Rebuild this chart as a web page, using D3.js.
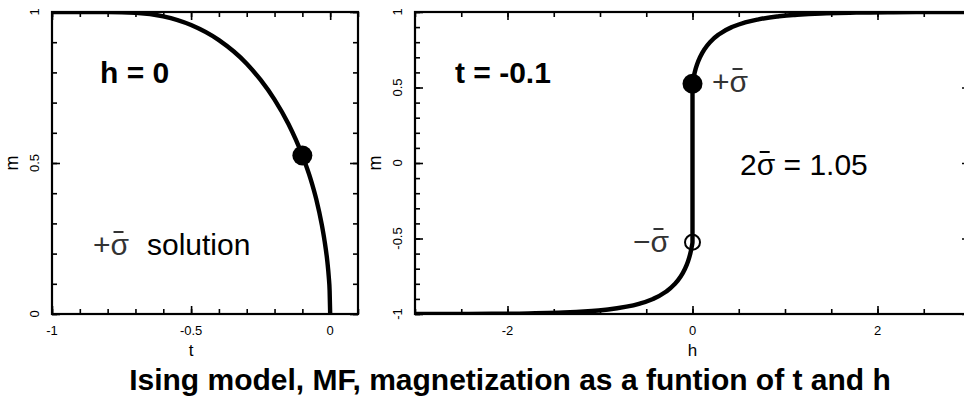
<!DOCTYPE html>
<html><head><meta charset="utf-8">
<script src="https://cdn.jsdelivr.net/npm/d3@7"></script>
<style>
body{margin:0;background:#fff}
svg{display:block}
text{font-family:"Liberation Sans",Arial,Helvetica,sans-serif;fill:#000}
</style>
</head><body>
<svg id="c" width="964" height="400"></svg>
<script>
// ---- data ----
// left panel: h = 0, m vs t
const leftT = [-1, -0.9, -0.8, -0.7, -0.6, -0.5, -0.4, -0.3, -0.25, -0.2, -0.15, -0.1, -0.07, -0.05, -0.03, -0.02, -0.01, -0.005, -0.002, 0];
const leftM = [1, 1, 0.9999, 0.9975, 0.9857, 0.957, 0.907, 0.829, 0.775, 0.710, 0.629, 0.525, 0.446, 0.38, 0.295, 0.241, 0.172, 0.122, 0.077, 0];
// right panel: t = -0.1, m vs h
const rightH = [-3.0, -2.733, -2.421, -2.110, -1.700, -1.392, -1.088, -0.913, -0.699, -0.563, -0.425, -0.281, -0.189, -0.126, -0.081, -0.048, -0.024, -0.007, 0,
                0, 0.007, 0.024, 0.048, 0.081, 0.126, 0.189, 0.281, 0.425, 0.563, 0.699, 0.913, 1.088, 1.392, 1.700, 2.110, 2.421, 2.733, 3.0];
const rightM = [-0.9997, -0.9995, -0.999, -0.998, -0.995, -0.99, -0.98, -0.97, -0.95, -0.93, -0.9, -0.85, -0.8, -0.75, -0.7, -0.65, -0.6, -0.55, -0.525,
                0.525, 0.55, 0.6, 0.65, 0.7, 0.75, 0.8, 0.85, 0.9, 0.93, 0.95, 0.97, 0.98, 0.99, 0.995, 0.998, 0.999, 0.9995, 0.9997];
// marked solutions
const leftPoint = {t: -0.1, m: 0.525};
const sigmaBar = 0.525;
// tick labels
const leftXTicks = [-1, -0.5, 0];
const leftXLabels = ["-1", "-0.5", "0"];
const leftYTicks = [0, 0.5, 1];
const leftYLabels = ["0", "0.5", "1"];
const rightXTicks = [-2, 0, 2];
const rightXLabels = ["-2", "0", "2"];
const rightYTicks = [-1, -0.5, 0, 0.5, 1];
const rightYLabels = ["-1", "-0.5", "0", "0.5", "1"];

const svg = d3.select("#c");
const defs = svg.append("defs");

function panel(p) {
  const g = svg.append("g");
  const x = d3.scaleLinear().domain(p.xd).range([p.x0, p.x1]);
  const y = d3.scaleLinear().domain(p.yd).range([p.yb, p.yt]);
  const ax = (gen, vals, size, tx, ty) => {
    const a = g.append("g").attr("transform", `translate(${tx},${ty})`)
      .call(gen.tickValues(vals).tickSize(size).tickSizeOuter(0).tickFormat(""));
    a.select(".domain").remove();
    a.selectAll("line").attr("stroke", "#000").attr("stroke-width", 1.6);
  };
  ax(d3.axisBottom(x), p.xMinor, -5, 0, p.yb);
  ax(d3.axisBottom(x), p.xMajor, -8, 0, p.yb);
  ax(d3.axisTop(x), p.xMinor, -5, 0, p.yt);
  ax(d3.axisTop(x), p.xMajor, -8, 0, p.yt);
  ax(d3.axisLeft(y), p.yMinor, -5, p.x0, 0);
  ax(d3.axisLeft(y), p.yMajor, -8, p.x0, 0);
  ax(d3.axisRight(y), p.yMinor, -5, p.x1, 0);
  ax(d3.axisRight(y), p.yMajor, -8, p.x1, 0);
  g.append("rect").attr("x", p.x0).attr("y", p.yt).attr("width", p.x1 - p.x0).attr("height", p.yb - p.yt)
    .attr("fill", "none").attr("stroke", "#000").attr("stroke-width", 2.2);
  // x tick labels
  g.selectAll(".xl").data(p.xMajor).enter().append("text")
    .attr("x", d => x(d)).attr("y", p.yb + 21).attr("text-anchor", "middle")
    .attr("font-size", 13).text((d, i) => p.xLabels[i]);
  // y tick labels (rotated)
  g.selectAll(".yl").data(p.yMajor).enter().append("text")
    .attr("transform", d => `translate(${p.x0 - 13},${y(d)}) rotate(-90)`)
    .attr("text-anchor", "middle").attr("font-size", 13).text((d, i) => p.yLabels[i]);
  // axis titles
  g.append("text").attr("x", x(p.xTitleAt)).attr("y", p.yb + 42).attr("text-anchor", "middle")
    .attr("font-size", 17).text(p.xTitle);
  g.append("text").attr("transform", `translate(${p.x0 - 34},${(p.yt + p.yb) / 2}) rotate(-90)`)
    .attr("text-anchor", "middle").attr("font-size", 18).text("m");
  defs.append("clipPath").attr("id", p.id).append("rect")
    .attr("x", p.x0).attr("y", p.yt).attr("width", p.x1 - p.x0).attr("height", p.yb - p.yt);
  return {g, x, y};
}

// text containing a sigma with an overbar drawn above it
function sigmaText(g, x, y, str, anchor, fill) {
  const t = g.append("text").attr("x", x).attr("y", y).attr("font-size", 30)
    .attr("text-anchor", anchor).style("fill", fill).style("white-space", "pre").text(str);
  const idx = str.indexOf("σ");
  const ext = t.node().getExtentOfChar(idx);
  g.append("line").attr("x1", ext.x + 3).attr("x2", ext.x + 13)
    .attr("y1", y - 23).attr("y2", y - 23).attr("stroke", fill).attr("stroke-width", 2);
  return t;
}

// ---- left panel ----
const L = panel({id: "clipL", xd: [-1, 0.1], yd: [0, 1], x0: 52, x1: 358, yb: 314, yt: 12,
  xMinor: d3.range(-1, 0.1001, 0.1), xMajor: leftXTicks, xLabels: leftXLabels,
  yMinor: d3.range(0, 1.0001, 0.1), yMajor: leftYTicks, yLabels: leftYLabels, xTitle: "t", xTitleAt: -0.5});
L.g.append("path").datum(leftT.map((t, i) => [t, leftM[i]]))
  .attr("clip-path", "url(#clipL)")
  .attr("fill", "none").attr("stroke", "#000").attr("stroke-width", 4.4)
  .attr("d", d3.line().x(d => L.x(d[0])).y(d => L.y(d[1])).curve(d3.curveMonotoneX));
L.g.append("circle").attr("cx", L.x(leftPoint.t)).attr("cy", L.y(leftPoint.m)).attr("r", 10).attr("fill", "#000");
L.g.append("text").attr("x", 100).attr("y", 83).attr("font-size", 30).attr("font-weight", "bold").text("h = 0");
sigmaText(L.g, 93, 255, "+σ", "start", "#333");
L.g.append("text").attr("x", 147).attr("y", 255).attr("font-size", 30).text("solution");

// ---- right panel ----
const R = panel({id: "clipR", xd: [-3, 3], yd: [-1, 1], x0: 415, x1: 970, yb: 314, yt: 12,
  xMinor: d3.range(-3, 3.001, 0.5), xMajor: rightXTicks, xLabels: rightXLabels,
  yMinor: d3.range(-1, 1.0001, 0.1), yMajor: rightYTicks, yLabels: rightYLabels, xTitle: "h", xTitleAt: 0});
R.g.append("path").datum(rightH.map((h, i) => [h, rightM[i]]))
  .attr("clip-path", "url(#clipR)")
  .attr("fill", "none").attr("stroke", "#000").attr("stroke-width", 4.4)
  .attr("d", d3.line().x(d => R.x(d[0])).y(d => R.y(d[1])).curve(d3.curveMonotoneY));
R.g.append("circle").attr("cx", R.x(0)).attr("cy", R.y(sigmaBar)).attr("r", 10).attr("fill", "#000");
R.g.append("circle").attr("cx", R.x(0)).attr("cy", R.y(-sigmaBar)).attr("r", 7.5)
  .attr("fill", "none").attr("stroke", "#000").attr("stroke-width", 2);
R.g.append("text").attr("x", 455).attr("y", 83).attr("font-size", 30).attr("font-weight", "bold").text("t = -0.1");
sigmaText(R.g, 712, 92, "+σ", "start", "#333");
sigmaText(R.g, 669, 252, "\u2212σ", "end", "#333");
sigmaText(R.g, 740, 175, "2σ = " + (2 * sigmaBar).toFixed(2), "start", "#000");

// ---- title ----
svg.append("text").attr("x", 510).attr("y", 390).attr("text-anchor", "middle")
  .attr("font-size", 30).attr("font-weight", "bold")
  .text("Ising model, MF, magnetization as a funtion of t and h");
</script>
</body></html>
